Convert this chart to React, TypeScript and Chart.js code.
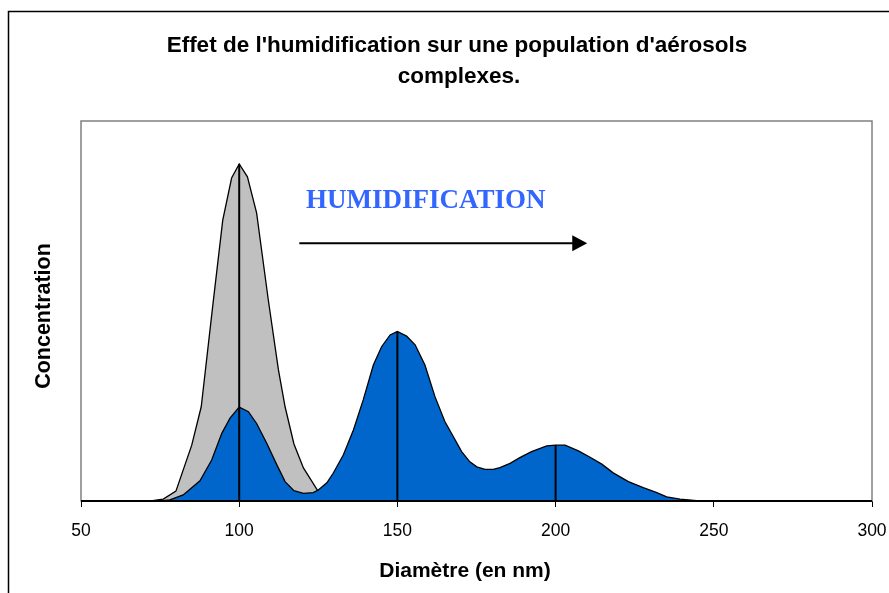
import React, { useEffect, useRef } from "react";
import { Chart, registerables } from "chart.js";

Chart.register(...registerables);

const titleLines = ["Effet de l'humidification sur une population d'aérosols", "complexes."];
const xAxisTitle = "Diamètre (en nm)";
const yAxisTitle = "Concentration";
const annotationText = "HUMIDIFICATION";

const xTicks = [50, 100, 150, 200, 250, 300];

// Dry aerosol population (grey), [diameter nm, concentration]
const drySeries: [number, number][] = [
  [50, 0], [72, 0], [76, 0.5], [80, 2.6], [85, 14.7], [88, 24.8], [91.6, 51.1],
  [94.8, 73.9], [97.6, 85], [100, 88.7], [102.6, 85.3], [105.5, 75.8], [109.2, 52.9],
  [112.4, 34.5], [114.5, 24.8], [117.3, 15], [120.3, 8.7], [124.7, 2.9], [128, 0.8],
  [133, 0], [300, 0],
];

// Humidified population (blue)
const humidSeries: [number, number][] = [
  [50, 0], [75, 0], [78.1, 0.3], [82.3, 1.6], [87.6, 5.3], [91.3, 10.8], [94.5, 17.8],
  [97.1, 21.8], [100, 24.7], [102.9, 23.5], [105.5, 20.4], [108.7, 15.2], [111.9, 9.5],
  [114.5, 5.1], [117.3, 2.7], [120.3, 2.0], [123.4, 2.2], [125, 2.9], [127.7, 4.8],
  [129.7, 7.3], [132.9, 12.1], [136.1, 18.7], [139.2, 26.6], [142.4, 35.8], [145, 40.6],
  [147.7, 43.7], [150, 44.6], [152.9, 43.4], [155.6, 41.1], [158.7, 35.8], [161.9, 27.4],
  [165, 20.9], [167.7, 16.9], [170.3, 13], [172.9, 10.3], [175.1, 9.0], [177.7, 8.3],
  [180.3, 8.3], [182.4, 8.8], [185.6, 9.9], [188.7, 11.4], [192.4, 13], [197.2, 14.5],
  [200, 14.7], [203, 14.7], [207.2, 13.2], [210.9, 11.5], [214.6, 9.7], [218.2, 7.4],
  [223, 5.1], [227.7, 3.5], [232, 2.2], [235.1, 1.1], [239.3, 0.5], [244.6, 0.1],
  [250.4, 0], [300, 0],
];

// Mode diameters marked with vertical lines
const modeDiameters = [100, 150, 200];

// Arrow from / to (diameter, concentration)
const arrowFrom: [number, number] = [119, 67.8];
const arrowTo: [number, number] = [210, 67.8];
const annotationAt: [number, number] = [121.1, 77.2];

const toPoints = (s: [number, number][]) => s.map(([x, y]) => ({ x, y }));

const modeTop = (x: number) => {
  let m = 0;
  for (const s of [drySeries, humidSeries]) {
    for (const [px, py] of s) if (px === x && py > m) m = py;
  }
  return m;
};

const decorPlugin = {
  id: "decor",
  beforeDraw(chart: any) {
    const { ctx, width, height } = chart;
    ctx.save();
    ctx.fillStyle = "#ffffff";
    ctx.fillRect(0, 0, width, height);
    ctx.strokeStyle = "#000000";
    ctx.lineWidth = 1.5;
    ctx.beginPath();
    ctx.moveTo(8.5, height);
    ctx.lineTo(8.5, 11.5);
    ctx.lineTo(width, 11.5);
    ctx.stroke();
    ctx.restore();
  },
  beforeDatasetsDraw(chart: any) {
    const { ctx, chartArea: a } = chart;
    ctx.save();
    ctx.strokeStyle = "#808080";
    ctx.lineWidth = 1.5;
    ctx.strokeRect(a.left, a.top, a.right - a.left, a.bottom - a.top);
    ctx.restore();
  },
  afterDatasetsDraw(chart: any) {
    const { ctx, chartArea: a, scales } = chart;
    const xs = scales.x;
    const ys = scales.y;
    ctx.save();
    // x axis line
    ctx.strokeStyle = "#000000";
    ctx.lineWidth = 2;
    ctx.beginPath();
    ctx.moveTo(a.left, a.bottom);
    ctx.lineTo(a.right, a.bottom);
    ctx.stroke();

    // arrow
    const x0 = xs.getPixelForValue(arrowFrom[0]);
    const y0 = ys.getPixelForValue(arrowFrom[1]);
    const x1 = xs.getPixelForValue(arrowTo[0]);
    ctx.lineWidth = 2;
    ctx.beginPath();
    ctx.moveTo(x0, y0);
    ctx.lineTo(x1 - 10, y0);
    ctx.stroke();
    ctx.fillStyle = "#000000";
    ctx.beginPath();
    ctx.moveTo(x1, y0);
    ctx.lineTo(x1 - 15, y0 - 8);
    ctx.lineTo(x1 - 15, y0 + 8);
    ctx.closePath();
    ctx.fill();

    // annotation text
    ctx.fillStyle = "#3366FF";
    ctx.font = "bold 27px 'Liberation Serif', 'Times New Roman', serif";
    ctx.textAlign = "left";
    ctx.textBaseline = "alphabetic";
    ctx.fillText(annotationText, xs.getPixelForValue(annotationAt[0]), ys.getPixelForValue(annotationAt[1]));

    // titles
    ctx.fillStyle = "#000000";
    ctx.font = "bold 22.5px 'Liberation Sans', Arial, sans-serif";
    ctx.textAlign = "center";
    ctx.fillText(titleLines[0], 457, 52);
    ctx.fillText(titleLines[1], 459, 83);
    ctx.font = "bold 21px 'Liberation Sans', Arial, sans-serif";
    ctx.fillText(xAxisTitle, 465, 577);
    ctx.font = "bold 21.5px 'Liberation Sans', Arial, sans-serif";
    ctx.translate(50, 316);
    ctx.rotate(-Math.PI / 2);
    ctx.fillText(yAxisTitle, 0, 0);
    ctx.restore();
  },
};

export default function App() {
  const ref = useRef<HTMLCanvasElement>(null);
  useEffect(() => {
    if (!ref.current) return;
    const lineSets = modeDiameters.map((d) => ({
      label: "mode " + d,
      data: [{ x: d, y: 0 }, { x: d, y: modeTop(d) }],
      borderColor: "#000000",
      borderWidth: 2,
      pointRadius: 0,
      fill: false,
      order: 0,
    }));
    const chart = new Chart(ref.current, {
      type: "line",
      data: {
        datasets: [
          {
            label: "humidifié",
            data: toPoints(humidSeries),
            borderColor: "#000000",
            borderWidth: 1.3,
            backgroundColor: "#0066CC",
            fill: "origin",
            pointRadius: 0,
            tension: 0,
            order: 1,
          },
          {
            label: "sec",
            data: toPoints(drySeries),
            borderColor: "#000000",
            borderWidth: 1.3,
            backgroundColor: "#C0C0C0",
            fill: "origin",
            pointRadius: 0,
            tension: 0,
            order: 2,
          },
          ...lineSets,
        ],
      },
      plugins: [decorPlugin],
      options: {
        animation: false,
        responsive: false,
        devicePixelRatio: 1,
        layout: { padding: { left: 81, right: 17, top: 121, bottom: 42 } },
        plugins: { legend: { display: false }, tooltip: { enabled: false }, title: { display: false } },
        scales: {
          x: {
            type: "linear",
            min: 50,
            max: 300,
            afterBuildTicks: (s: any) => {
              s.ticks = xTicks.map((v) => ({ value: v }));
            },
            afterFit: (s: any) => {
              s.height = 50;
              s.paddingLeft = 0;
              s.paddingRight = 0;
            },
            ticks: {
              color: "#000000",
              font: { family: "'Liberation Sans', Arial, sans-serif", size: 17.5 },
              padding: 14,
              maxRotation: 0,
            },
            grid: {
              display: true,
              drawOnChartArea: false,
              drawTicks: true,
              tickLength: 6,
              color: "#000000",
              lineWidth: 1,
            },
            border: { display: false },
          },
          y: { type: "linear", display: false, min: 0, max: 100 },
        },
      },
    });
    return () => chart.destroy();
  }, []);
  return (
    <div style={{ position: "absolute", left: 0, top: 0, width: 889, height: 593 }}>
      <canvas ref={ref} width={889} height={593} style={{ width: 889, height: 593, display: "block" }} />
    </div>
  );
}
